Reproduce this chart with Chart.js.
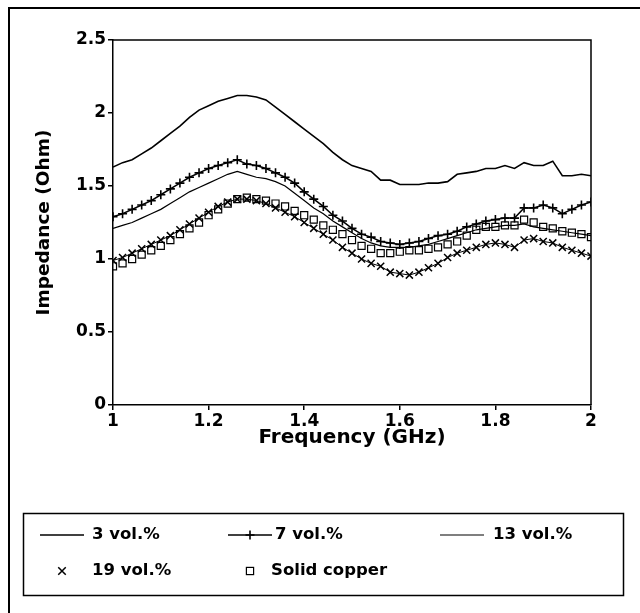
<!DOCTYPE html>
<html>
<head>
<meta charset="utf-8">
<title>Impedance vs frequency</title>
<script src="https://cdn.jsdelivr.net/npm/chart.js@4.4.1/dist/chart.umd.min.js"></script>
<style>
    html, body { margin: 0; padding: 0; background: #fff; }
    #chart { display: block; }
</style>
</head>
<body>
<canvas id="chart" width="640" height="613"></canvas>
<script>
// --- 1. DATA ---
const freq = [1.00, 1.02, 1.04, 1.06, 1.08, 1.10, 1.12, 1.14, 1.16, 1.18,
              1.20, 1.22, 1.24, 1.26, 1.28, 1.30, 1.32, 1.34, 1.36, 1.38,
              1.40, 1.42, 1.44, 1.46, 1.48, 1.50, 1.52, 1.54, 1.56, 1.58,
              1.60, 1.62, 1.64, 1.66, 1.68, 1.70, 1.72, 1.74, 1.76, 1.78,
              1.80, 1.82, 1.84, 1.86, 1.88, 1.90, 1.92, 1.94, 1.96, 1.98, 2.00];

const vol3 = [1.63, 1.66, 1.68, 1.72, 1.76, 1.81, 1.86, 1.91, 1.97, 2.02,
              2.05, 2.08, 2.10, 2.12, 2.12, 2.11, 2.09, 2.04, 1.99, 1.94,
              1.89, 1.84, 1.79, 1.73, 1.68, 1.64, 1.62, 1.60, 1.54, 1.54,
              1.51, 1.51, 1.51, 1.52, 1.52, 1.53, 1.58, 1.59, 1.60, 1.62,
              1.62, 1.64, 1.62, 1.66, 1.64, 1.64, 1.67, 1.57, 1.57, 1.58, 1.57];

const vol7 = [1.29, 1.31, 1.34, 1.37, 1.40, 1.44, 1.48, 1.52, 1.56, 1.59,
              1.62, 1.64, 1.66, 1.68, 1.65, 1.64, 1.62, 1.59, 1.56, 1.52,
              1.46, 1.41, 1.36, 1.30, 1.26, 1.21, 1.17, 1.15, 1.12, 1.11,
              1.10, 1.11, 1.12, 1.14, 1.16, 1.17, 1.19, 1.22, 1.24, 1.26,
              1.27, 1.28, 1.28, 1.35, 1.35, 1.37, 1.35, 1.31, 1.34, 1.37, 1.39];

const vol13 = [1.21, 1.23, 1.25, 1.28, 1.31, 1.34, 1.38, 1.42, 1.46, 1.49,
               1.52, 1.55, 1.58, 1.60, 1.58, 1.56, 1.55, 1.53, 1.50, 1.45,
               1.40, 1.35, 1.31, 1.26, 1.22, 1.18, 1.14, 1.11, 1.09, 1.08,
               1.08, 1.08, 1.09, 1.10, 1.12, 1.14, 1.16, 1.18, 1.20, 1.21,
               1.22, 1.23, 1.23, 1.24, 1.22, 1.21, 1.20, 1.19, 1.18, 1.17, 1.16];

const vol19 = [0.99, 1.01, 1.04, 1.07, 1.10, 1.13, 1.16, 1.20, 1.24, 1.28,
               1.32, 1.36, 1.39, 1.41, 1.41, 1.40, 1.38, 1.35, 1.32, 1.29,
               1.25, 1.21, 1.17, 1.13, 1.08, 1.04, 1.00, 0.97, 0.95, 0.91,
               0.90, 0.89, 0.91, 0.94, 0.97, 1.01, 1.04, 1.06, 1.08, 1.10,
               1.11, 1.10, 1.08, 1.13, 1.14, 1.12, 1.11, 1.08, 1.06, 1.04, 1.02];

const copper = [0.95, 0.97, 1.00, 1.03, 1.06, 1.09, 1.13, 1.17, 1.21, 1.25,
                1.30, 1.34, 1.38, 1.41, 1.42, 1.41, 1.40, 1.38, 1.36, 1.33,
                1.30, 1.27, 1.23, 1.20, 1.17, 1.13, 1.09, 1.07, 1.04, 1.04,
                1.05, 1.06, 1.06, 1.07, 1.08, 1.10, 1.12, 1.16, 1.20, 1.22,
                1.22, 1.23, 1.23, 1.27, 1.25, 1.22, 1.21, 1.19, 1.18, 1.17, 1.15];

const seriesNames = ["3 vol.%", "7 vol.%", "13 vol.%", "19 vol.%", "Solid copper"];

const xTicks = [1, 1.2, 1.4, 1.6, 1.8, 2];
const xTickLabels = ["1", "1.2", "1.4", "1.6", "1.8", "2"];
const yTicks = [0, 0.5, 1, 1.5, 2, 2.5];
const yTickLabels = ["0", "0.5", "1", "1.5", "2", "2.5"];

const toPoints = vals => freq.map((f, i) => ({ x: f, y: vals[i] }));

// --- 2. LEGEND + FRAME PLUGINS ---
// slot: symbol start x, row y, text x
const legendSlots = [
    [40, 535, 92], [228, 535, 275], [440, 535, 493],
    [40, 571, 92], [228, 571, 271]
];

function drawMarker(ctx, style, x, y, r) {
    ctx.beginPath();
    if (style === "cross") {
        ctx.moveTo(x - r, y); ctx.lineTo(x + r, y);
        ctx.moveTo(x, y - r); ctx.lineTo(x, y + r);
        ctx.stroke();
    } else if (style === "crossRot") {
        const d = r * 0.75;
        ctx.moveTo(x - d, y - d); ctx.lineTo(x + d, y + d);
        ctx.moveTo(x + d, y - d); ctx.lineTo(x - d, y + d);
        ctx.stroke();
    } else if (style === "rect") {
        const s = r * 0.72;
        ctx.strokeRect(x - s, y - s, 2 * s, 2 * s);
    }
}

const framePlugin = {
    id: "frame",
    beforeDraw(chart) {
        const ctx = chart.ctx;
        ctx.save();
        ctx.fillStyle = "#fff";
        ctx.fillRect(0, 0, chart.width, chart.height);
        // outer border of the scanned page
        ctx.strokeStyle = "#000";
        ctx.lineWidth = 2;
        ctx.beginPath();
        ctx.moveTo(9, chart.height);
        ctx.lineTo(9, 8);
        ctx.lineTo(chart.width, 8);
        ctx.stroke();
        ctx.restore();
    },
    afterDraw(chart) {
        const ctx = chart.ctx;
        const a = chart.chartArea;
        ctx.save();
        ctx.strokeStyle = "#000";
        ctx.lineWidth = 1.5;
        ctx.beginPath();
        ctx.moveTo(a.left, a.top);
        ctx.lineTo(a.right, a.top);
        ctx.lineTo(a.right, a.bottom);
        ctx.stroke();

        // legend box
        ctx.lineWidth = 1.5;
        ctx.strokeRect(23.5, 513.5, 600, 82);
        ctx.font = "bold 16.5px 'DejaVu Sans'";
        ctx.textBaseline = "middle";
        ctx.fillStyle = "#000";
        chart.data.datasets.forEach((ds, i) => {
            const [sx, sy, tx] = legendSlots[i];
            ctx.strokeStyle = "#000";
            if (ds.showLine !== false && ds.legendLine !== false) {
                ctx.lineWidth = ds.borderWidth;
                ctx.beginPath();
                ctx.moveTo(sx, sy);
                ctx.lineTo(sx + 44, sy);
                ctx.stroke();
            }
            if (ds.pointRadius > 0) {
                ctx.lineWidth = ds.pointBorderWidth || 1;
                drawMarker(ctx, ds.pointStyle, sx + 22, sy, ds.pointRadius);
            }
            ctx.fillText(ds.label, tx, sy);
        });
        ctx.restore();
    }
};

// --- 3. CHART ---
const ctx = document.getElementById("chart").getContext("2d");
const tickFont = { family: "DejaVu Sans", size: 17, weight: "bold" };

new Chart(ctx, {
    type: "line",
    data: {
        datasets: [
            {
                label: seriesNames[0], data: toPoints(vol3),
                borderColor: "#000", borderWidth: 1.6, pointRadius: 0
            },
            {
                label: seriesNames[1], data: toPoints(vol7),
                borderColor: "#000", borderWidth: 1.5,
                pointStyle: "cross", pointRadius: 4.5, pointBorderWidth: 1.6,
                pointBorderColor: "#000"
            },
            {
                label: seriesNames[2], data: toPoints(vol13),
                borderColor: "#000", borderWidth: 1.2, pointRadius: 0
            },
            {
                label: seriesNames[3], data: toPoints(vol19),
                borderColor: "#000", borderWidth: 1, legendLine: false,
                pointStyle: "crossRot", pointRadius: 5, pointBorderWidth: 1.5,
                pointBorderColor: "#000"
            },
            {
                label: seriesNames[4], data: toPoints(copper),
                showLine: false, borderColor: "#000", borderWidth: 1,
                pointStyle: "rect", pointRadius: 5, pointBorderWidth: 1.2,
                pointBorderColor: "#000", pointBackgroundColor: "rgba(0,0,0,0)"
            }
        ]
    },
    options: {
        responsive: false,
        animation: false,
        layout: { padding: { left: 0, top: 40, right: 49, bottom: 163 } },
        elements: { line: { tension: 0 } },
        plugins: {
            legend: { display: false },
            tooltip: { enabled: false }
        },
        scales: {
            x: {
                type: "linear", min: 1, max: 2,
                afterBuildTicks: s => { s.ticks = xTicks.map(v => ({ value: v })); },
                afterFit: s => { s.height = 45; },
                ticks: {
                    color: "#000", font: tickFont, padding: 1, maxRotation: 0,
                    callback: (v, i) => xTickLabels[i]
                },
                grid: { drawOnChartArea: false, drawTicks: true, tickLength: 5, color: "#000", lineWidth: 1.5 },
                border: { display: true, color: "#000", width: 1.5 },
                title: {
                    display: true, text: "Frequency (GHz)", color: "#000",
                    font: { family: "DejaVu Sans", size: 20, weight: "bold" },
                    padding: { top: 0, bottom: 0 }
                }
            },
            y: {
                type: "linear", min: 0, max: 2.5,
                afterBuildTicks: s => { s.ticks = yTicks.map(v => ({ value: v })); },
                afterFit: s => { s.width = 113; },
                ticks: {
                    color: "#000", font: tickFont, padding: 2,
                    callback: (v, i) => yTickLabels[i]
                },
                grid: { drawOnChartArea: false, drawTicks: true, tickLength: 5, color: "#000", lineWidth: 1.5 },
                border: { display: true, color: "#000", width: 1.5 },
                title: {
                    display: true, text: "Impedance (Ohm)", color: "#000",
                    font: { family: "DejaVu Sans", size: 18.5, weight: "bold" },
                    padding: { top: 33, bottom: 0 }
                }
            }
        }
    },
    plugins: [framePlugin]
});
</script>
</body>
</html>
